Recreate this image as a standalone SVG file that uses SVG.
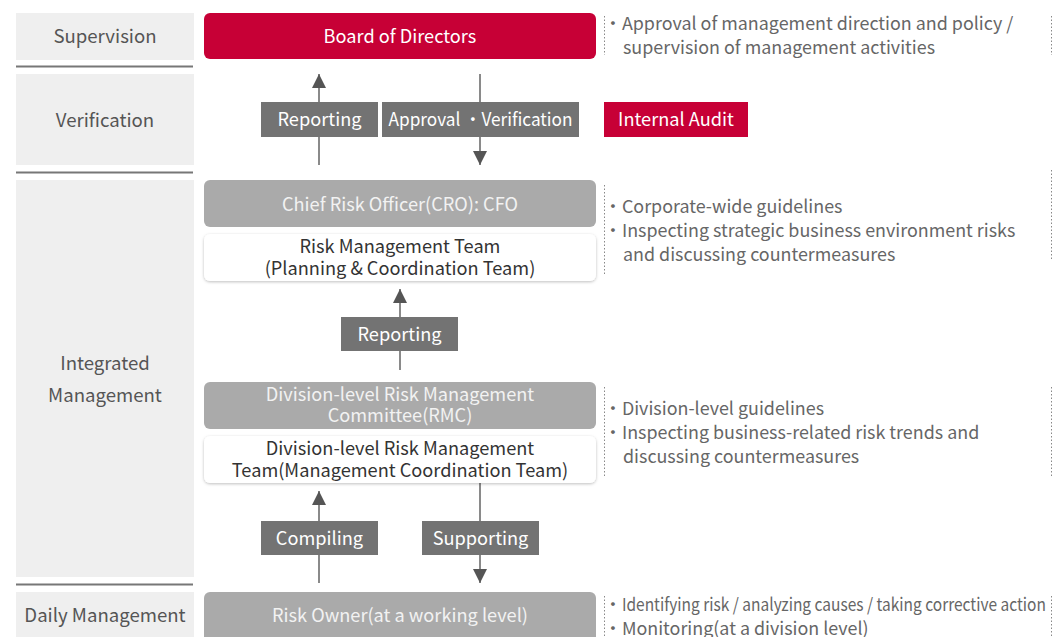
<svg xmlns="http://www.w3.org/2000/svg" width="1055" height="637" viewBox="0 0 1055 637">
<style>
text{font-family:"Noto Sans CJK KR","Noto Sans",sans-serif;font-size:18.2px}
.lab{fill:#555;text-anchor:middle;font-size:18.6px}
.lbg{fill:#efefef}
.sep{stroke:#777;stroke-width:2}
.red{fill:#c70036}
.gray{fill:#aaaaaa}
.wbox{fill:#fff;filter:url(#sh)}
.wt{fill:#fff;text-anchor:middle}
.lt{fill:#f2f2f2;text-anchor:middle}
.dk{fill:#333;text-anchor:middle}
.tag{fill:#737373}
.desc{fill:#666;font-size:17.9px}
.dot{stroke:#888;stroke-width:1;stroke-dasharray:1.5 2;fill:none}
.conn{stroke:#8a8a8a;stroke-width:2;fill:none}
</style>
<defs>
<filter id="sh" x="-5%" y="-20%" width="110%" height="140%">
<feDropShadow dx="0" dy="1" stdDeviation="1.5" flood-color="#000" flood-opacity="0.25"/>
</filter>
<marker id="ah" viewBox="0 0 14 14" refX="14" refY="7" markerWidth="14" markerHeight="14" markerUnits="userSpaceOnUse" orient="auto">
<path d="M0,0 L14,7 L0,14 Z" fill="#555"/>
</marker>
</defs>

<g id="levels">
<rect class="lbg" x="16" y="13" width="178" height="47"/>
<text class="lab" x="105" y="43">Supervision</text>
<line class="sep" x1="16" y1="66.5" x2="193" y2="66.5"/>
<rect class="lbg" x="16" y="74" width="178" height="91"/>
<text class="lab" x="105" y="127">Verification</text>
<line class="sep" x1="16" y1="172.5" x2="193" y2="172.5"/>
<rect class="lbg" x="16" y="180" width="178" height="397"/>
<text class="lab" x="105" y="370">Integrated</text>
<text class="lab" x="105" y="402">Management</text>
<line class="sep" x1="16" y1="584.5" x2="193" y2="584.5"/>
<rect class="lbg" x="16" y="592" width="178" height="50"/>
<text class="lab" x="105" y="622">Daily Management</text>
</g>

<g id="connectors">
<line class="conn" x1="319" y1="165" x2="319" y2="74" marker-end="url(#ah)"/>
<line class="conn" x1="480" y1="74" x2="480" y2="165" marker-end="url(#ah)"/>
<line class="conn" x1="400" y1="370" x2="400" y2="289" marker-end="url(#ah)"/>
<line class="conn" x1="319" y1="583" x2="319" y2="491" marker-end="url(#ah)"/>
<line class="conn" x1="480" y1="483" x2="480" y2="583" marker-end="url(#ah)"/>
</g>

<g id="board">
<rect class="red" x="204" y="13" width="392" height="46" rx="6"/>
<text class="wt" x="400" y="42.5">Board of Directors</text>
</g>
<g id="tag-reporting-1">
<rect class="tag" x="261" y="102" width="117" height="35"/>
<text class="wt" x="319.5" y="125.5">Reporting</text>
</g>
<g id="tag-approval">
<rect class="tag" x="382" y="102" width="197" height="35"/>
<text class="wt" x="480.5" y="125.5" textLength="184" lengthAdjust="spacingAndGlyphs">Approval ・Verification</text>
</g>
<g id="internal-audit">
<rect class="red" x="604" y="102" width="144" height="35"/>
<text class="wt" x="676" y="126">Internal Audit</text>
</g>
<g id="cro">
<rect class="gray" x="204" y="180" width="392" height="47" rx="6"/>
<text class="lt" x="400" y="210.5">Chief Risk Officer(CRO): CFO</text>
</g>
<g id="rmt">
<rect class="wbox" x="204" y="234" width="392" height="47" rx="6"/>
<text class="dk" x="400" y="253">Risk Management Team</text>
<text class="dk" x="400" y="275">(Planning &amp; Coordination Team)</text>
</g>
<g id="tag-reporting-2">
<rect class="tag" x="341" y="317" width="117" height="34"/>
<text class="wt" x="399.5" y="340.5">Reporting</text>
</g>
<g id="rmc">
<rect class="gray" x="204" y="382" width="392" height="47" rx="6"/>
<text class="lt" x="400" y="401">Division-level Risk Management</text>
<text class="lt" x="400" y="422">Committee(RMC)</text>
</g>
<g id="drmt">
<rect class="wbox" x="204" y="436" width="392" height="47" rx="6"/>
<text class="dk" x="400" y="455">Division-level Risk Management</text>
<text class="dk" x="400" y="477">Team(Management Coordination Team)</text>
</g>
<g id="tag-compiling">
<rect class="tag" x="261" y="521" width="117" height="34"/>
<text class="wt" x="319.5" y="544.5">Compiling</text>
</g>
<g id="tag-supporting">
<rect class="tag" x="422" y="521" width="117" height="34"/>
<text class="wt" x="480.5" y="544.5">Supporting</text>
</g>
<g id="risk-owner">
<rect class="gray" x="204" y="592" width="392" height="52" rx="6"/>
<text class="lt" x="400" y="621.5">Risk Owner(at a working level)</text>
</g>

<g id="desc-board">
<line class="dot" x1="604.5" y1="16" x2="604.5" y2="55"/>
<line class="dot" x1="1051.5" y1="16" x2="1051.5" y2="55"/>
<text class="desc" x="604" y="30">・Approval of management direction and policy /</text>
<text class="desc" x="623" y="54">supervision of management activities</text>
</g>
<g id="desc-cro">
<line class="dot" x1="604.5" y1="185" x2="604.5" y2="275"/>
<line class="dot" x1="1051.5" y1="170" x2="1051.5" y2="260"/>
<text class="desc" x="604" y="213">・Corporate-wide guidelines</text>
<text class="desc" x="604" y="237">・Inspecting strategic business environment risks</text>
<text class="desc" x="623" y="261">and discussing countermeasures</text>
</g>
<g id="desc-rmc">
<line class="dot" x1="604.5" y1="387" x2="604.5" y2="477"/>
<line class="dot" x1="1051.5" y1="387" x2="1051.5" y2="477"/>
<text class="desc" x="604" y="415">・Division-level guidelines</text>
<text class="desc" x="604" y="439">・Inspecting business-related risk trends and</text>
<text class="desc" x="623" y="463">discussing countermeasures</text>
</g>
<g id="desc-owner">
<line class="dot" x1="604.5" y1="596" x2="604.5" y2="637"/>
<line class="dot" x1="1051.5" y1="596" x2="1051.5" y2="637"/>
<text class="desc" x="604" y="611"><tspan>・</tspan><tspan textLength="424" lengthAdjust="spacingAndGlyphs">Identifying risk / analyzing causes / taking corrective action</tspan></text>
<text class="desc" x="604" y="635">・Monitoring(at a division level)</text>
</g>
</svg>
